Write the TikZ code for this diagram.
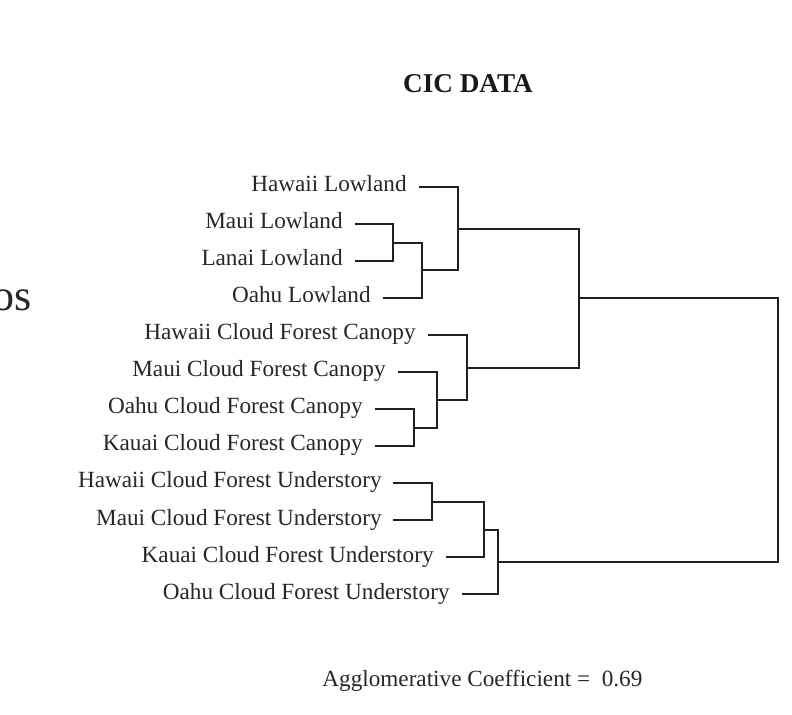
\documentclass[tikz,border=0pt]{standalone}
\usepackage{fontspec}
\setmainfont{Liberation Serif}

\begin{document}
\begin{tikzpicture}[
    x=0.5pt, y=-0.5pt,
    lbl/.style={anchor=base east, inner sep=0pt, text=black!85, font=\fontsize{11.6}{14}\selectfont},
    title/.style={anchor=base, inner sep=0pt, text=black!90, font=\fontsize{13.6}{16}\selectfont\bfseries},
    note/.style={anchor=base west, inner sep=0pt, text=black!85, font=\fontsize{11.6}{14}\selectfont},
    cut/.style={anchor=base east, inner sep=0pt, text=black!85, font=\fontsize{22}{26}\selectfont},
    branch/.style={draw=black!88, line width=0.9pt}
]
    \useasboundingbox (0,0) rectangle (792,715);
    \clip (0,0) rectangle (792,715);
    % Titles
    \node[title] (title) at (468,93) {CIC DATA};
    \node[cut] (os) at (32,311) {os};
    \node[note] (coef) at (322,686) {Agglomerative Coefficient = \ 0.69};
    % Leaves
    \node[lbl] (t1) at (407,192) {Hawaii Lowland};
    \node[lbl] (t2) at (343,229) {Maui Lowland};
    \node[lbl] (t3) at (343,266) {Lanai Lowland};
    \node[lbl] (t4) at (371,303) {Oahu Lowland};
    \node[lbl] (t5) at (416,340) {Hawaii Cloud Forest Canopy};
    \node[lbl] (t6) at (386,377) {Maui Cloud Forest Canopy};
    \node[lbl] (t7) at (363,414) {Oahu Cloud Forest Canopy};
    \node[lbl] (t8) at (363,451) {Kauai Cloud Forest Canopy};
    \node[lbl] (t9) at (382,488) {Hawaii Cloud Forest Understory};
    \node[lbl] (t10) at (382,525) {Maui Cloud Forest Understory};
    \node[lbl] (t11) at (434,562) {Kauai Cloud Forest Understory};
    \node[lbl] (t12) at (450,599) {Oahu Cloud Forest Understory};
    \coordinate (l1) at (419,187);
    \coordinate (l2) at (355,224);
    \coordinate (l3) at (355,261);
    \coordinate (l4) at (383,298);
    \coordinate (l5) at (428,335);
    \coordinate (l6) at (398,372);
    \coordinate (l7) at (375,409);
    \coordinate (l8) at (375,446);
    \coordinate (l9) at (393,483);
    \coordinate (l10) at (393,520);
    \coordinate (l11) at (446,557);
    \coordinate (l12) at (462,594);
    % Merges
    \coordinate (m1) at (393,243);
    \coordinate (m2) at (422,270);
    \coordinate (m3) at (458,229);
    \coordinate (m4) at (414,428);
    \coordinate (m5) at (437,400);
    \coordinate (m6) at (467,368);
    \coordinate (m7) at (579,298);
    \coordinate (m8) at (432,502);
    \coordinate (m9) at (484,530);
    \coordinate (m10) at (498,562);
    \coordinate (m11) at (778,430);
    % Branches
    \draw[branch] (l2) -| (m1) |- (l3);
    \draw[branch] (m1) -| (m2) |- (l4);
    \draw[branch] (l1) -| (m3) |- (m2);
    \draw[branch] (l7) -| (m4) |- (l8);
    \draw[branch] (l6) -| (m5) |- (m4);
    \draw[branch] (l5) -| (m6) |- (m5);
    \draw[branch] (m3) -| (m7) |- (m6);
    \draw[branch] (l9) -| (m8) |- (l10);
    \draw[branch] (m8) -| (m9) |- (l11);
    \draw[branch] (m9) -| (m10) |- (l12);
    \draw[branch] (m7) -| (m11) |- (m10);
\end{tikzpicture}
\end{document}
